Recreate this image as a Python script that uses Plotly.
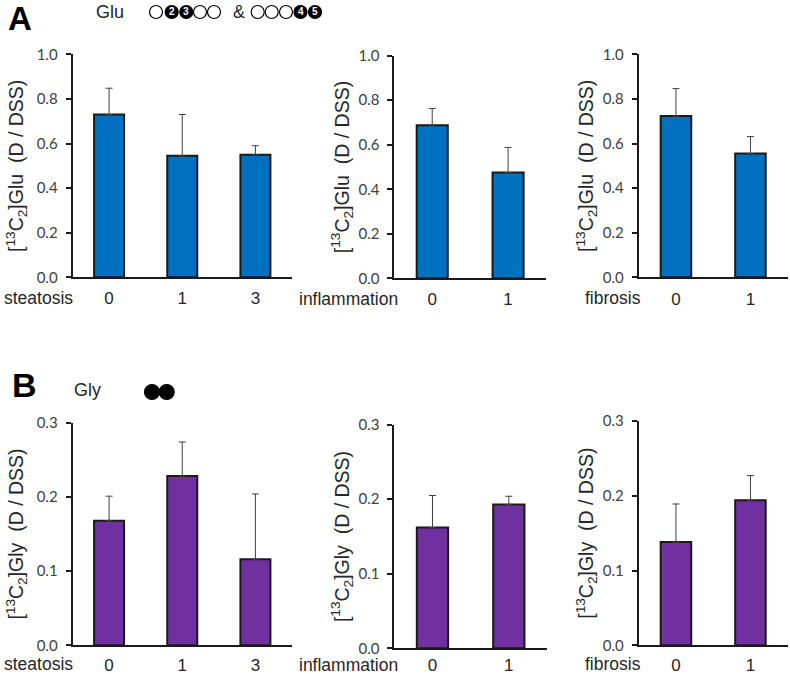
import plotly.graph_objects as go

W, H = 790, 674
BLUE = "#0070C0"
PURPLE = "#7030A0"
INK = "#1a1a1a"

# ---- data ----
steatosis_cats = ["0", "1", "3"]
binary_cats = ["0", "1"]

glu_steatosis = [0.73, 0.545, 0.55]
glu_steatosis_err = [0.118, 0.185, 0.04]
glu_inflammation = [0.688, 0.475]
glu_inflammation_err = [0.075, 0.113]
glu_fibrosis = [0.723, 0.555]
glu_fibrosis_err = [0.123, 0.076]

gly_steatosis = [0.168, 0.228, 0.116]
gly_steatosis_err = [0.033, 0.046, 0.088]
gly_inflammation = [0.162, 0.193]
gly_inflammation_err = [0.043, 0.011]
gly_fibrosis = [0.138, 0.194]
gly_fibrosis_err = [0.051, 0.033]

glu_ticks = [0.0, 0.2, 0.4, 0.6, 0.8, 1.0]
gly_ticks = [0.0, 0.1, 0.2, 0.3]

GLU_TITLE = "[<sup>13</sup>C<sub>2</sub>]Glu  (D / DSS)"
GLY_TITLE = "[<sup>13</sup>C<sub>2</sub>]Gly  (D / DSS)"

# label, cats, vals, errs, colour, ymax, ticks, title, left, right, top, bottom, label x, label y, x-label gap, title standoff
panels = [
    ("steatosis", steatosis_cats, glu_steatosis, glu_steatosis_err, BLUE, 1.0, glu_ticks, GLU_TITLE, 72.5, 292, 54.3, 277.3, 38, 297.5, 4, 8),
    ("inflammation", binary_cats, glu_inflammation, glu_inflammation_err, BLUE, 1.0, glu_ticks, GLU_TITLE, 394.3, 546, 55.7, 278.3, 348.5, 298.5, 4, 4),
    ("fibrosis", binary_cats, glu_fibrosis, glu_fibrosis_err, BLUE, 1.0, glu_ticks, GLU_TITLE, 638.7, 787.7, 54.3, 277.3, 612.5, 298, 5, 4),
    ("steatosis", steatosis_cats, gly_steatosis, gly_steatosis_err, PURPLE, 0.3, gly_ticks, GLY_TITLE, 72.5, 292, 422.7, 645.3, 38, 663.5, 3, 8),
    ("inflammation", binary_cats, gly_inflammation, gly_inflammation_err, PURPLE, 0.3, gly_ticks, GLY_TITLE, 394.3, 547, 424.7, 648.3, 348.5, 664.5, 0, 4),
    ("fibrosis", binary_cats, gly_fibrosis, gly_fibrosis_err, PURPLE, 0.3, gly_ticks, GLY_TITLE, 638.7, 787.7, 421, 645.3, 612.5, 664, 3, 4),
]

fig = go.Figure()
annotations = []
shapes = []
layout_axes = {}

def px(x):
    return x / W

def py(y):
    return 1 - y / H

for i, (label, cats, vals, errs, colour, ymax, ticks, title, left, right, top, bottom, lx, ly, xgap, standoff) in enumerate(panels, start=1):
    fig.add_trace(go.Bar(
        x=cats, y=vals, width=0.41,
        marker=dict(color=colour, line=dict(color=INK, width=2)),
        error_y=dict(type="data", symmetric=False, array=errs,
                     arrayminus=[0] * len(errs), color="#404040", thickness=1, width=3.5),
        xaxis=f"x{i}", yaxis=f"y{i}", showlegend=False,
    ))
    layout_axes[f"xaxis{i}"] = dict(
        domain=[px(left), px(right)], anchor=f"y{i}", type="category", automargin=False,
        range=[-0.5, len(cats) - 0.5], showgrid=False, zeroline=False,
        showline=True, linecolor=INK, linewidth=1.8,
        ticks="outside", ticklen=xgap, tickcolor="rgba(0,0,0,0)",
        tickfont=dict(family="Liberation Sans", size=17, color="#262626"),
    )
    layout_axes[f"yaxis{i}"] = dict(
        domain=[py(bottom), py(top)], anchor=f"x{i}", range=[0, ymax], automargin=False,
        tickvals=ticks, ticktext=[f"{t:.1f}" for t in ticks],
        showgrid=False, zeroline=False, showline=True, linecolor=INK, linewidth=1.8,
        ticks="outside", ticklen=5, tickwidth=1.5, tickcolor=INK, ticklabelstandoff=5,
        tickfont=dict(family="Lato", size=15, color="#404040"),
        title=dict(text=title, standoff=standoff,
                   font=dict(family="Liberation Sans", size=19.5, color="#262626")),
    )
    annotations.append(dict(text=label, xref="paper", yref="paper", x=px(lx), y=py(ly),
                            showarrow=False, xanchor="center", yanchor="middle",
                            font=dict(family="Liberation Sans", size=17.5, color="#262626")))

# ---- panel letters and legends ----
header_texts = [
    ("A", 19.5, 18, 33, True, "black"),
    ("B", 24, 384.5, 34, True, "black"),
    ("Glu", 110, 12, 18, False, "#262626"),
    ("&", 238.5, 12, 18, False, "#262626"),
    ("Gly", 87, 390, 18, False, "#262626"),
]
for text, x, y, size, bold, colour in header_texts:
    annotations.append(dict(text=f"<b>{text}</b>" if bold else text, xref="paper", yref="paper",
                            x=px(x), y=py(y), showarrow=False, xanchor="center", yanchor="middle",
                            font=dict(family="Liberation Sans", size=size, color=colour)))

atoms = [
    (156, 12, 6.5, "", False), (171.7, 12, 6.5, "2", True), (186.3, 12, 6.5, "3", True),
    (200, 12, 6.5, "", False), (214, 12, 6.5, "", False),
    (257.7, 12, 6.5, "", False), (271.7, 12, 6.5, "", False), (286, 12, 6.5, "", False),
    (300.5, 12, 6.5, "4", True), (315, 12, 6.5, "5", True),
    (152, 392, 7.5, "", True), (166.7, 392, 7.5, "", True),
]
for x, y, r, text, filled in atoms:
    shapes.append(dict(type="circle", xref="paper", yref="paper",
                       x0=px(x - r), x1=px(x + r), y0=py(y + r), y1=py(y - r),
                       fillcolor="black" if filled else "white",
                       line=dict(color="black", width=1.2)))
    if text:
        annotations.append(dict(text=f"<b>{text}</b>", xref="paper", yref="paper", x=px(x), y=py(y),
                                showarrow=False, xanchor="center", yanchor="middle",
                                font=dict(family="Liberation Sans", size=10, color="white")))

fig.update_layout(
    width=W, height=H, margin=dict(l=0, r=0, t=0, b=0),
    paper_bgcolor="white", plot_bgcolor="white",
    annotations=annotations, shapes=shapes, **layout_axes,
)
fig.write_html("out.html", post_script="document.body.style.margin='0';",
               config={"displayModeBar": False})
